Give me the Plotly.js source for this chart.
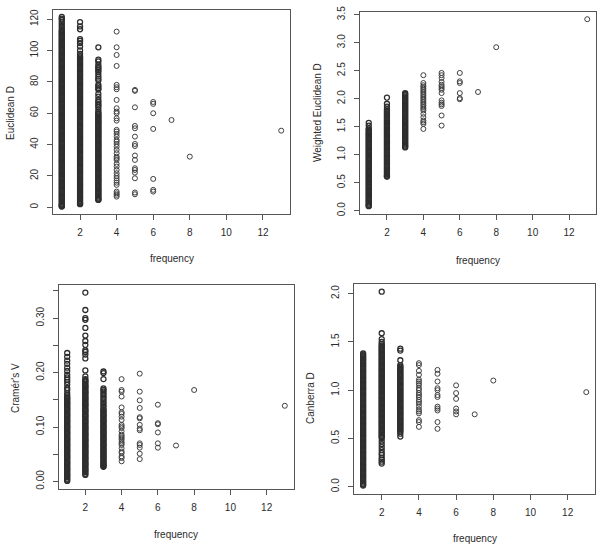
<!DOCTYPE html>
<html>
<head>
<meta charset="utf-8">
<script src="https://cdn.plot.ly/plotly-3.0.1.min.js"></script>
<style>
  html, body { margin: 0; padding: 0; background: #fff; }
  #chart { width: 603px; height: 544px; }
</style>
</head>
<body>
<div id="chart"></div>
<script>
// Frequency levels shared by all four panels
const freqLevels = [1, 2, 3, 4, 5, 6, 7, 8, 13];

// Euclidean D, one list per frequency level
const euclideanD = [
  [121.5, 120.4, 119.6, 118.3, 117.1, 115.8, 114.6,
   113.2, 112.4, 111.7, 110.9, 110.2, 109.4, 108.7, 107.9, 107.2, 106.4, 105.7, 104.9, 104.2, 103.4, 102.7, 101.9, 101.2, 100.4, 99.7, 98.9, 98.2, 97.4, 96.7, 95.9, 95.2, 94.4, 93.7, 92.9, 92.2, 91.4, 90.7, 89.9, 89.2, 88.4, 87.7, 86.9, 86.2, 85.4, 84.7, 83.9, 83.2, 82.4, 81.7, 80.9, 80.2, 79.4, 78.7, 77.9, 77.2, 76.4, 75.7, 74.9, 74.2, 73.4, 72.7, 71.9, 71.2, 70.4, 69.7, 68.9, 68.2, 67.4, 66.7, 65.9, 65.2, 64.4, 63.7, 62.9, 62.2, 61.4, 60.7,
   59.9, 59.2, 58.4, 57.7, 56.9, 56.2, 55.4, 54.7, 53.9, 53.2, 52.4, 51.7, 50.9, 50.2, 49.4, 48.7, 47.9, 47.2, 46.4, 45.7, 44.9, 44.2, 43.4, 42.7, 41.9, 41.2, 40.4, 39.7, 38.9, 38.2, 37.4, 36.7, 35.9, 35.2, 34.4, 33.7, 32.9, 32.2, 31.4, 30.7, 29.9, 29.2, 28.4, 27.7, 26.9, 26.2, 25.4, 24.7, 23.9, 23.2, 22.4, 21.7, 20.9, 20.2, 19.4, 18.7, 17.9, 17.2, 16.4, 15.7, 14.9, 14.2, 13.4, 12.7, 11.9, 11.2, 10.4, 9.7, 8.9, 8.2, 7.4, 6.7, 5.9, 5.2, 4.4, 3.7, 2.9, 2.2, 1.6, 1.1, 0.7, 0.5],
  [118.2, 115.4, 113.6, 107.3, 106.2, 104.8, 102.6, 100.1, 97.9, 96.4,
   95.6, 94.9, 94.1, 93.4, 92.6, 91.9, 91.1, 90.4, 89.6, 88.9, 88.1, 87.4, 86.6, 85.9, 85.1, 84.4, 83.6, 82.9, 82.1, 81.4, 80.6, 79.9, 79.1, 78.4, 77.6, 76.9, 76.1, 75.4, 74.6, 73.9, 73.1, 72.4, 71.6, 70.9, 70.1, 69.4, 68.6, 67.9, 67.1, 66.4, 65.6, 64.9, 64.1, 63.4, 62.6, 61.9, 61.1, 60.4,
   59.6, 58.9, 58.1, 57.4, 56.6, 55.9, 55.1, 54.4, 53.6, 52.9, 52.1, 51.4, 50.6, 49.9, 49.1, 48.4, 47.6, 46.9, 46.1, 45.4, 44.6, 43.9, 43.1, 42.4, 41.6, 40.9, 40.1, 39.4, 38.6, 37.9, 37.1, 36.4, 35.6, 34.9, 34.1, 33.4, 32.6, 31.9, 31.1, 30.4, 29.6, 28.9, 28.1, 27.4, 26.6, 25.9, 25.1, 24.4, 23.6, 22.9, 22.1, 21.4, 20.6, 19.9, 19.1, 18.4, 17.6, 16.9, 16.1, 15.4, 14.6, 13.9, 13.1, 12.4, 11.6, 10.9, 10.1, 9.4, 8.6, 7.9, 7.1, 6.4, 5.6, 4.9, 4.1, 3.4, 2.7, 2.2, 2.0],
  [102.1, 94.2, 93.1, 91.0, 89.6, 88.8, 87.5, 86.6, 85.0, 83.4, 82.1, 81.0, 78.2, 77.1, 76.0, 75.1, 72.4, 70.6, 68.5, 67.3, 66.2, 65.0, 64.1, 62.5, 61.0, 60.1,
   59.4, 58.6, 57.9, 57.1, 56.4, 55.6, 54.9, 54.1, 53.4, 52.6, 51.9, 51.1, 50.4, 49.6, 48.9, 48.1, 47.4, 46.6, 45.9, 45.1, 44.4, 43.6, 42.9, 42.1, 41.4, 40.6, 39.9, 39.1, 38.4, 37.6, 36.9, 36.1, 35.4, 34.6, 33.9, 33.1, 32.4, 31.6, 30.9, 30.1, 29.4, 28.6, 27.9, 27.1, 26.4, 25.6, 24.9, 24.1, 23.4, 22.6, 21.9, 21.1, 20.4, 19.6, 18.9, 18.1, 17.4, 16.6, 15.9, 15.1, 14.4, 13.6, 12.9, 12.1, 11.4, 10.6, 9.9, 9.1, 8.4, 7.6, 6.9, 6.1, 5.4, 4.9, 4.7],
  [112.1, 102.1, 97.2, 90.2, 78.1, 76.6, 75.3, 68.5, 63.2, 61.1, 60.0, 56.8, 55.3, 49.4, 48.3, 46.8, 45.1, 43.0, 41.9, 40.4, 38.7, 36.6, 34.5, 32.3, 31.3, 30.2, 27.7, 26.0, 23.8, 21.7, 20.0, 18.5, 17.0, 15.7, 14.3, 10.0, 8.9, 7.9, 6.8],
  [74.9, 74.3, 63.8, 51.9, 50.4, 45.1, 40.4, 39.1, 33.0, 30.2, 24.9, 23.8, 22.1, 18.5, 9.4, 8.3],
  [67.2, 66.0, 60.0, 50.0, 18.1, 11.1, 10.0],
  [55.7],
  [32.3],
  [48.9]
];

// Weighted Euclidean D
const weightedEuclideanD = [
  [1.57, 1.52, 1.47,
   1.448, 1.427, 1.406, 1.385, 1.364, 1.343, 1.322, 1.301, 1.280, 1.259, 1.238, 1.217, 1.196, 1.175, 1.154, 1.133, 1.112, 1.091, 1.070, 1.049, 1.028, 1.007, 0.986, 0.965, 0.944, 0.923, 0.902, 0.881, 0.860, 0.839, 0.818, 0.797, 0.776, 0.755, 0.734, 0.713, 0.692, 0.671, 0.650, 0.629, 0.608, 0.587, 0.566, 0.545, 0.524, 0.503, 0.482, 0.461, 0.440, 0.419, 0.398, 0.377, 0.356, 0.335, 0.314, 0.293, 0.272, 0.251, 0.230, 0.209, 0.188, 0.167, 0.146, 0.125, 0.104, 0.088, 0.080],
  [2.02, 1.91, 1.86, 1.81, 1.785,
   1.764, 1.743, 1.722, 1.701, 1.680, 1.659, 1.638, 1.617, 1.596, 1.575, 1.554, 1.533, 1.512, 1.491, 1.470, 1.449, 1.428, 1.407, 1.386, 1.365, 1.344, 1.323, 1.302, 1.281, 1.260, 1.239, 1.218, 1.197, 1.176, 1.155, 1.134, 1.113, 1.092, 1.071, 1.050, 1.029, 1.008, 0.987, 0.966, 0.945, 0.924, 0.903, 0.882, 0.861, 0.840, 0.819, 0.798, 0.777, 0.756, 0.735, 0.714, 0.693, 0.672, 0.651, 0.630, 0.615, 0.610],
  [2.10, 2.085,
   2.064, 2.043, 2.022, 2.001, 1.980, 1.959, 1.938, 1.917, 1.896, 1.875, 1.854, 1.833, 1.812, 1.791, 1.770, 1.749, 1.728, 1.707, 1.686, 1.665, 1.644, 1.623, 1.602, 1.581, 1.560, 1.539, 1.518, 1.497, 1.476, 1.455, 1.434, 1.413, 1.392, 1.371, 1.350, 1.329, 1.308, 1.287, 1.266, 1.245, 1.224, 1.203, 1.182, 1.161, 1.145, 1.130],
  [2.42, 2.28, 2.24, 2.21, 2.18, 2.15, 2.12, 2.09, 2.06, 2.03, 2.0, 1.97, 1.94, 1.91, 1.88, 1.85, 1.82, 1.79, 1.73, 1.67, 1.61, 1.58, 1.55, 1.46],
  [2.46, 2.42, 2.37, 2.30, 2.25, 2.22, 2.19, 2.16, 2.10, 1.97, 1.93, 1.90, 1.87, 1.70, 1.52],
  [2.46, 2.31, 2.28, 2.10, 2.01, 1.99],
  [2.12],
  [2.92],
  [3.42]
];

// Cramér's V
const cramersV = [
  [0.236, 0.229, 0.222, 0.216, 0.209, 0.203, 0.196, 0.191, 0.187, 0.183, 0.178, 0.172, 0.168, 0.162, 0.158,
   0.155, 0.153, 0.151, 0.148, 0.146, 0.144, 0.142, 0.140, 0.137, 0.135, 0.133, 0.131, 0.129, 0.126, 0.124, 0.122, 0.120, 0.118, 0.115, 0.113, 0.111, 0.109, 0.107, 0.104, 0.102, 0.100, 0.098, 0.096, 0.093, 0.091, 0.089, 0.087, 0.085, 0.082, 0.080, 0.078, 0.076, 0.074, 0.071, 0.069, 0.067, 0.065, 0.063, 0.060, 0.058, 0.056, 0.054, 0.052, 0.049, 0.047, 0.045, 0.043, 0.041, 0.038, 0.036, 0.034, 0.032, 0.030, 0.027, 0.025, 0.023, 0.021, 0.019, 0.016, 0.014, 0.012, 0.010, 0.008, 0.005, 0.003, 0.001],
  [0.347, 0.315, 0.300, 0.297, 0.282, 0.268, 0.258, 0.251, 0.241, 0.238, 0.233, 0.226, 0.204, 0.193, 0.188,
   0.186, 0.184, 0.182, 0.179, 0.177, 0.175, 0.173, 0.171, 0.168, 0.166, 0.164, 0.162, 0.160, 0.157, 0.155, 0.153, 0.151, 0.149, 0.146, 0.144, 0.142, 0.140, 0.138, 0.135, 0.133, 0.131, 0.129, 0.127, 0.124, 0.122, 0.120, 0.118, 0.116, 0.113, 0.111, 0.109, 0.107, 0.105, 0.102, 0.100, 0.098, 0.096, 0.094, 0.091, 0.089, 0.087, 0.085, 0.083, 0.080, 0.078, 0.076, 0.074, 0.072, 0.069, 0.067, 0.065, 0.063, 0.061, 0.058, 0.056, 0.054, 0.052, 0.050, 0.047, 0.045, 0.043, 0.041, 0.039, 0.036, 0.034, 0.032, 0.030, 0.028, 0.025, 0.023, 0.021, 0.019, 0.017, 0.014, 0.012],
  [0.202, 0.199, 0.188, 0.171,
   0.168, 0.165, 0.161, 0.158, 0.154, 0.151, 0.147, 0.144, 0.140, 0.137, 0.133, 0.131, 0.129, 0.126, 0.124, 0.122, 0.120, 0.118, 0.115, 0.113, 0.111, 0.109, 0.107, 0.104, 0.102, 0.100, 0.098, 0.096, 0.093, 0.091, 0.089, 0.087, 0.085, 0.082, 0.080, 0.078, 0.076, 0.074, 0.071, 0.069, 0.067, 0.065, 0.063, 0.060, 0.058, 0.056, 0.054, 0.052, 0.049, 0.047, 0.045, 0.043, 0.041, 0.038, 0.036, 0.034, 0.032, 0.030, 0.028, 0.027],
  [0.188, 0.168, 0.165, 0.156, 0.136, 0.127, 0.124, 0.119, 0.113, 0.104, 0.101, 0.098, 0.092, 0.086, 0.083, 0.080, 0.077, 0.073, 0.070, 0.067, 0.061, 0.055, 0.052, 0.046, 0.043, 0.037],
  [0.198, 0.165, 0.149, 0.135, 0.118, 0.116, 0.104, 0.097, 0.094, 0.070, 0.067, 0.062, 0.051, 0.041],
  [0.141, 0.107, 0.105, 0.090, 0.070, 0.062],
  [0.066],
  [0.168],
  [0.139]
];

// Canberra D
const canberraD = [
  [1.380, 1.368, 1.355, 1.343, 1.330, 1.318, 1.305, 1.293, 1.280, 1.268, 1.255, 1.243, 1.230, 1.218, 1.205, 1.193, 1.180, 1.168, 1.155, 1.143, 1.130, 1.118, 1.105, 1.093, 1.080, 1.068, 1.055, 1.043, 1.030, 1.018, 1.005, 0.993, 0.980, 0.968, 0.955, 0.943, 0.930, 0.918, 0.905, 0.893, 0.880, 0.868, 0.855, 0.843, 0.830, 0.818, 0.805, 0.793, 0.780, 0.768, 0.755, 0.743, 0.730, 0.718, 0.705, 0.693, 0.680, 0.668, 0.655, 0.643, 0.630, 0.618, 0.605, 0.593, 0.580, 0.568, 0.555, 0.543, 0.530, 0.518, 0.505, 0.493, 0.480, 0.468, 0.455, 0.443, 0.430, 0.418, 0.405, 0.393, 0.380, 0.368, 0.355, 0.343, 0.330, 0.318, 0.305, 0.293, 0.280, 0.268, 0.255, 0.243, 0.230, 0.218, 0.205, 0.193, 0.180, 0.168, 0.155, 0.143, 0.130, 0.118, 0.105, 0.093, 0.080, 0.068, 0.055, 0.043, 0.030, 0.020, 0.012],
  [2.02, 1.59, 1.53, 1.50, 1.48,
   1.465, 1.453, 1.440, 1.428, 1.415, 1.403, 1.390, 1.378, 1.365, 1.353, 1.340, 1.328, 1.315, 1.303, 1.290, 1.278, 1.265, 1.253, 1.240, 1.228, 1.215, 1.203, 1.190, 1.178, 1.165, 1.153, 1.140, 1.128, 1.115, 1.103, 1.090, 1.078, 1.065, 1.053, 1.040, 1.028, 1.015, 1.003, 0.990, 0.978, 0.965, 0.953, 0.940, 0.928, 0.915, 0.903, 0.890, 0.878, 0.865, 0.853, 0.840, 0.828, 0.815, 0.803, 0.790, 0.778, 0.765, 0.753, 0.740, 0.728, 0.715, 0.703, 0.690, 0.678, 0.665, 0.653, 0.640, 0.628, 0.615, 0.603, 0.590, 0.578, 0.565, 0.553, 0.540, 0.528, 0.515, 0.503,
   0.47, 0.44, 0.41, 0.38, 0.35, 0.33, 0.30, 0.28, 0.26, 0.24],
  [1.43, 1.41, 1.31, 1.26,
   1.245, 1.233, 1.220, 1.208, 1.195, 1.183, 1.170, 1.158, 1.145, 1.133, 1.120, 1.108, 1.095, 1.083, 1.070, 1.058, 1.045, 1.033, 1.020, 1.008, 0.995, 0.983, 0.970, 0.958, 0.945, 0.933, 0.920, 0.908, 0.895, 0.883, 0.870, 0.858, 0.845, 0.833, 0.820, 0.808, 0.795, 0.783, 0.770, 0.758, 0.745, 0.733, 0.720, 0.708, 0.695, 0.683, 0.670, 0.658, 0.645, 0.633, 0.620, 0.608, 0.595, 0.583, 0.570, 0.55, 0.52],
  [1.28, 1.26, 1.20, 1.16, 1.11, 1.09, 1.07, 1.05, 1.02, 1.00, 0.97, 0.95, 0.93, 0.90, 0.88, 0.86, 0.83, 0.80, 0.78, 0.76, 0.69, 0.67, 0.62],
  [1.21, 1.17, 1.09, 1.02, 1.00, 0.95, 0.93, 0.83, 0.81, 0.79, 0.67, 0.60],
  [1.05, 0.97, 0.91, 0.81, 0.78, 0.75],
  [0.75],
  [1.10],
  [0.98]
];

// Tick labels
const freqTicks = [2, 4, 6, 8, 10, 12];
const euclidTicks = [0, 20, 40, 60, 80, 100, 120];
const weightedTicks = [0, 0.5, 1, 1.5, 2, 2.5, 3, 3.5];
const weightedLabels = ['0.0', '0.5', '1.0', '1.5', '2.0', '2.5', '3.0', '3.5'];
const cramerTicks = [0, 0.05, 0.1, 0.15, 0.2, 0.25, 0.3, 0.35];
const cramerLabels = ['0.00', '', '0.10', '', '0.20', '', '0.30', ''];
const canberraTicks = [0, 0.5, 1, 1.5, 2];
const canberraLabels = ['0.0', '0.5', '1.0', '1.5', '2.0'];

const W = 603, H = 544;
const FONT = '"Liberation Sans", Arial, Helvetica, sans-serif';
const INK = '#2b2b2b';

// Two traces per panel: the heavily populated levels (1-3) get a slightly
// heavier ring so the stacked circles read as solid columns, the rest stay thin.
function points(groups, xa, ya) {
  const busy = { x: [], y: [] }, sparse = { x: [], y: [] };
  groups.forEach((vals, i) => vals.forEach(v => {
    const t = freqLevels[i] <= 3 ? busy : sparse;
    t.x.push(freqLevels[i]); t.y.push(v);
  }));
  const trace = (pts, width, color) => ({
    type: 'scatter', mode: 'markers', x: pts.x, y: pts.y, xaxis: xa, yaxis: ya,
    marker: { symbol: 'circle-open', size: 5, color, line: { width } },
    hoverinfo: 'x+y', showlegend: false
  });
  return [trace(busy, 1.3, '#2e2e2e'), trace(sparse, 1, '#404040')];
}

// pixel box -> paper domain
const dx = (l, r) => [l / W, r / W];
const dy = (t, b) => [1 - b / H, 1 - t / H];

function xAxis(anchor, dom) {
  return {
    domain: dom, anchor, range: [0.52, 13.48],
    tickmode: 'array', tickvals: freqTicks, ticktext: freqTicks.map(String),
    showline: true, mirror: true, linecolor: '#555', linewidth: 1,
    ticks: 'outside', ticklen: 5, tickcolor: '#555', tickwidth: 1,
    showgrid: false, zeroline: false, ticklabelstandoff: 4,
    tickfont: { family: FONT, size: 10, color: INK }, fixedrange: true
  };
}
function yAxis(anchor, dom, range, vals, text) {
  return {
    domain: dom, anchor, range,
    tickmode: 'array', tickvals: vals, ticktext: text, tickangle: -90,
    showline: true, mirror: true, linecolor: '#555', linewidth: 1,
    ticks: 'outside', ticklen: 5, tickcolor: '#555', tickwidth: 1,
    showgrid: false, zeroline: false, ticklabelstandoff: 5,
    tickfont: { family: FONT, size: 10, color: INK }, fixedrange: true
  };
}

function label(text, xpx, ypx, angle) {
  return {
    text, xref: 'paper', yref: 'paper', x: xpx / W, y: 1 - ypx / H,
    xanchor: 'center', yanchor: 'middle', showarrow: false, textangle: angle || 0,
    font: { family: FONT, size: 10, color: INK }
  };
}

const data = [].concat(
  points(euclideanD, 'x', 'y'),
  points(weightedEuclideanD, 'x2', 'y2'),
  points(cramersV, 'x3', 'y3'),
  points(canberraD, 'x4', 'y4')
);

const layout = {
  width: W, height: H,
  margin: { l: 0, r: 0, t: 0, b: 0 },
  paper_bgcolor: '#fff', plot_bgcolor: '#fff',
  showlegend: false,
  xaxis: xAxis('y', dx(53, 290)),
  yaxis: yAxis('x', dy(10, 214), [-4.3, 125.9], euclidTicks, euclidTicks.map(String)),
  xaxis2: xAxis('y2', dx(360, 596)),
  yaxis2: yAxis('x2', dy(11.7, 213.7), [-0.054, 3.554], weightedTicks, weightedLabels),
  xaxis3: xAxis('y3', dx(58.5, 293.5)),
  yaxis3: yAxis('x3', dy(285, 489), [-0.0139, 0.3609], cramerTicks, cramerLabels),
  xaxis4: xAxis('y4', dx(354.2, 595.2)),
  yaxis4: yAxis('x4', dy(284, 493.5), [-0.07, 2.10], canberraTicks, canberraLabels),
  annotations: [
    label('Euclidean D', 10, 113, -90),
    label('frequency', 172, 258),
    label('Weighted Euclidean D', 317, 113, -90),
    label('frequency', 478, 260),
    label('Cramér\'s V', 15, 388, -90),
    label('frequency', 176, 534),
    label('Canberra D', 310, 398, -90),
    label('frequency', 475, 538)
  ]
};

Plotly.newPlot('chart', data, layout, { staticPlot: true, displayModeBar: false });
</script>
</body>
</html>
